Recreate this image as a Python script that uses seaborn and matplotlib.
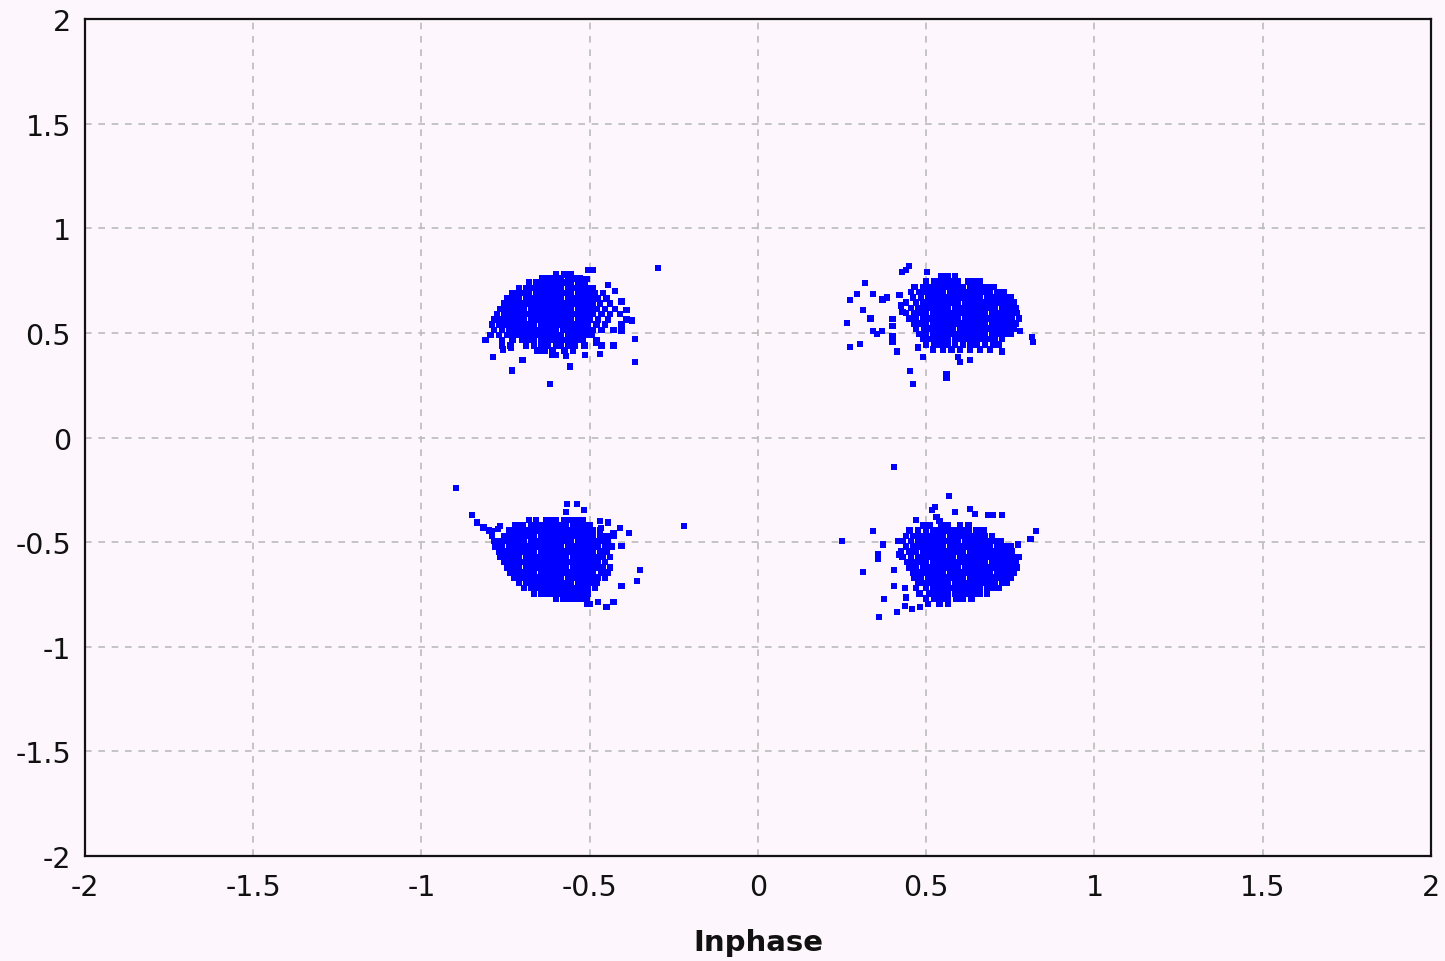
import matplotlib
matplotlib.use("Agg")
import matplotlib.pyplot as plt
import seaborn as sns
import pandas as pd

# Received QPSK symbols, grouped per quadrant.
# Dense parts are listed row by row as (Q, [I values]); stray symbols as (I, Q) pairs.
upper_left_rows = [
    (0.78, [-0.60, -0.575, -0.555]),
    (0.76, [-0.64, -0.62, -0.60, -0.585, -0.565, -0.55, -0.53]),
    (0.74, [-0.68, -0.66, -0.645, -0.625, -0.61, -0.59, -0.57, -0.555, -0.535, -0.515]),
    (0.715, [-0.71, -0.69, -0.675, -0.655, -0.64, -0.62, -0.60, -0.585, -0.565, -0.545, -0.53, -0.51, -0.49]),
    (0.69, [-0.73, -0.715, -0.695, -0.68, -0.66, -0.64, -0.625, -0.605, -0.59, -0.57, -0.555, -0.535, -0.52, -0.50, -0.485, -0.46]),
    (0.665, [-0.745, -0.725, -0.71, -0.69, -0.67, -0.655, -0.635, -0.62, -0.60, -0.585, -0.565, -0.55, -0.53, -0.515, -0.495, -0.475, -0.45]),
    (0.64, [-0.755, -0.74, -0.72, -0.70, -0.685, -0.665, -0.65, -0.63, -0.615, -0.595, -0.58, -0.56, -0.545, -0.525, -0.51, -0.49, -0.47, -0.44]),
    (0.615, [-0.765, -0.745, -0.73, -0.71, -0.695, -0.675, -0.66, -0.64, -0.625, -0.605, -0.59, -0.57, -0.555, -0.535, -0.52, -0.50, -0.48, -0.455, -0.425]),
    (0.59, [-0.775, -0.755, -0.74, -0.72, -0.70, -0.685, -0.665, -0.65, -0.63, -0.615, -0.595, -0.58, -0.56, -0.545, -0.525, -0.51, -0.49, -0.465, -0.44, -0.41]),
    (0.565, [-0.785, -0.765, -0.745, -0.73, -0.71, -0.695, -0.675, -0.66, -0.64, -0.625, -0.605, -0.59, -0.57, -0.555, -0.535, -0.52, -0.50, -0.475, -0.445, -0.39]),
    (0.54, [-0.79, -0.77, -0.75, -0.735, -0.715, -0.70, -0.68, -0.665, -0.645, -0.63, -0.61, -0.595, -0.575, -0.56, -0.54, -0.525, -0.505, -0.48, -0.455, -0.405]),
    (0.515, [-0.785, -0.76, -0.74, -0.72, -0.705, -0.685, -0.67, -0.65, -0.635, -0.615, -0.60, -0.58, -0.565, -0.545, -0.53, -0.51, -0.49, -0.465, -0.43]),
    (0.49, [-0.795, -0.77, -0.745, -0.725, -0.705, -0.69, -0.67, -0.655, -0.635, -0.62, -0.60, -0.585, -0.565, -0.55, -0.53, -0.515, -0.495]),
    (0.465, [-0.81, -0.76, -0.73, -0.70, -0.68, -0.665, -0.645, -0.63, -0.61, -0.595, -0.575, -0.56, -0.54, -0.52, -0.48]),
    (0.44, [-0.76, -0.735, -0.69, -0.665, -0.645, -0.625, -0.60, -0.585, -0.565, -0.545, -0.515, -0.465]),
    (0.415, [-0.655, -0.635, -0.61, -0.575, -0.55]),
]
upper_left_strays = [
    (-0.297, 0.81), (-0.505, 0.80), (-0.49, 0.80), (-0.366, 0.47), (-0.366, 0.36),
    (-0.618, 0.255), (-0.731, 0.32), (-0.788, 0.385), (-0.758, 0.42), (-0.734, 0.43),
    (-0.70, 0.37), (-0.559, 0.34), (-0.61, 0.395), (-0.60, 0.395), (-0.57, 0.39),
    (-0.514, 0.395), (-0.43, 0.44), (-0.47, 0.40), (-0.465, 0.44), (-0.48, 0.455),
    (-0.405, 0.51), (-0.374, 0.56), (-0.39, 0.61), (-0.405, 0.65), (-0.425, 0.70),
    (-0.446, 0.73), (-0.51, 0.757),
]

upper_right_rows = [
    (0.77, [0.545, 0.565, 0.585]),
    (0.745, [0.50, 0.525, 0.54, 0.56, 0.575, 0.595, 0.625, 0.645, 0.66]),
    (0.72, [0.465, 0.49, 0.505, 0.525, 0.54, 0.56, 0.575, 0.595, 0.61, 0.63, 0.645, 0.665, 0.68, 0.70]),
    (0.695, [0.455, 0.48, 0.50, 0.515, 0.535, 0.55, 0.57, 0.585, 0.605, 0.62, 0.64, 0.655, 0.675, 0.69, 0.71, 0.73]),
    (0.67, [0.46, 0.485, 0.505, 0.52, 0.54, 0.555, 0.575, 0.59, 0.61, 0.625, 0.645, 0.66, 0.68, 0.695, 0.715, 0.735, 0.75]),
    (0.645, [0.44, 0.47, 0.49, 0.51, 0.525, 0.545, 0.56, 0.58, 0.595, 0.615, 0.63, 0.65, 0.665, 0.685, 0.70, 0.72, 0.74, 0.76]),
    (0.62, [0.455, 0.475, 0.495, 0.515, 0.53, 0.55, 0.565, 0.585, 0.60, 0.62, 0.635, 0.655, 0.67, 0.69, 0.705, 0.725, 0.745, 0.765]),
    (0.595, [0.44, 0.465, 0.485, 0.50, 0.52, 0.535, 0.555, 0.57, 0.59, 0.605, 0.625, 0.64, 0.66, 0.675, 0.695, 0.71, 0.73, 0.75, 0.77]),
    (0.57, [0.45, 0.47, 0.49, 0.51, 0.525, 0.545, 0.56, 0.58, 0.595, 0.615, 0.63, 0.65, 0.665, 0.685, 0.70, 0.72, 0.735, 0.755, 0.775]),
    (0.545, [0.465, 0.485, 0.50, 0.52, 0.535, 0.555, 0.57, 0.59, 0.605, 0.625, 0.64, 0.66, 0.675, 0.695, 0.71, 0.73, 0.745, 0.765]),
    (0.52, [0.47, 0.495, 0.51, 0.53, 0.545, 0.565, 0.58, 0.60, 0.615, 0.635, 0.65, 0.67, 0.685, 0.705, 0.72, 0.74, 0.76]),
    (0.495, [0.48, 0.50, 0.52, 0.535, 0.555, 0.57, 0.59, 0.605, 0.625, 0.64, 0.66, 0.675, 0.695, 0.71, 0.73, 0.75]),
    (0.47, [0.49, 0.51, 0.53, 0.55, 0.565, 0.585, 0.60, 0.62, 0.635, 0.655, 0.67, 0.69, 0.705, 0.725]),
    (0.445, [0.50, 0.525, 0.545, 0.565, 0.585, 0.61, 0.63, 0.65, 0.675, 0.70, 0.715]),
    (0.42, [0.52, 0.55, 0.575, 0.60, 0.63, 0.66, 0.69]),
]
upper_right_strays = [
    (0.815, 0.48), (0.817, 0.457), (0.778, 0.51), (0.725, 0.41), (0.63, 0.37),
    (0.594, 0.385), (0.60, 0.36), (0.56, 0.30), (0.56, 0.285), (0.452, 0.318),
    (0.46, 0.255), (0.49, 0.385), (0.475, 0.43), (0.413, 0.41), (0.40, 0.46),
    (0.40, 0.485), (0.342, 0.51), (0.368, 0.51), (0.353, 0.495), (0.303, 0.447),
    (0.273, 0.433), (0.264, 0.547), (0.335, 0.57), (0.312, 0.61), (0.273, 0.657),
    (0.294, 0.686), (0.318, 0.738), (0.342, 0.686), (0.37, 0.66), (0.383, 0.67),
    (0.40, 0.566), (0.40, 0.533), (0.428, 0.79), (0.449, 0.82), (0.44, 0.80),
    (0.502, 0.79), (0.425, 0.63), (0.43, 0.60), (0.42, 0.68),
]

lower_left_rows = [
    (-0.395, [-0.68, -0.66, -0.63, -0.615, -0.60, -0.575, -0.555, -0.54, -0.52]),
    (-0.42, [-0.72, -0.70, -0.675, -0.655, -0.64, -0.62, -0.605, -0.585, -0.57, -0.55, -0.535, -0.515, -0.50]),
    (-0.445, [-0.80, -0.74, -0.72, -0.70, -0.685, -0.665, -0.65, -0.63, -0.615, -0.595, -0.58, -0.56, -0.545, -0.525, -0.51, -0.49, -0.47]),
    (-0.47, [-0.79, -0.755, -0.735, -0.715, -0.70, -0.68, -0.665, -0.645, -0.63, -0.61, -0.595, -0.575, -0.56, -0.54, -0.525, -0.505, -0.49, -0.47, -0.45, -0.43]),
    (-0.495, [-0.785, -0.765, -0.745, -0.73, -0.71, -0.695, -0.675, -0.66, -0.64, -0.625, -0.605, -0.59, -0.57, -0.555, -0.535, -0.52, -0.50, -0.485, -0.465, -0.445]),
    (-0.52, [-0.78, -0.76, -0.74, -0.725, -0.705, -0.69, -0.67, -0.655, -0.635, -0.62, -0.60, -0.585, -0.565, -0.55, -0.53, -0.515, -0.495, -0.475, -0.455, -0.435]),
    (-0.545, [-0.77, -0.75, -0.735, -0.715, -0.70, -0.68, -0.665, -0.645, -0.63, -0.61, -0.595, -0.575, -0.56, -0.54, -0.525, -0.505, -0.49, -0.47, -0.45]),
    (-0.57, [-0.765, -0.745, -0.725, -0.71, -0.69, -0.675, -0.655, -0.64, -0.62, -0.605, -0.585, -0.57, -0.55, -0.535, -0.515, -0.50, -0.48, -0.46, -0.44]),
    (-0.595, [-0.755, -0.735, -0.72, -0.70, -0.685, -0.665, -0.65, -0.63, -0.615, -0.595, -0.58, -0.56, -0.545, -0.525, -0.51, -0.49, -0.475, -0.455]),
    (-0.62, [-0.745, -0.725, -0.71, -0.69, -0.675, -0.655, -0.64, -0.62, -0.605, -0.585, -0.57, -0.55, -0.535, -0.515, -0.50, -0.48, -0.46, -0.44]),
    (-0.645, [-0.735, -0.715, -0.70, -0.68, -0.665, -0.645, -0.63, -0.61, -0.595, -0.575, -0.56, -0.54, -0.525, -0.505, -0.49, -0.465, -0.445]),
    (-0.67, [-0.725, -0.705, -0.69, -0.67, -0.655, -0.635, -0.62, -0.60, -0.585, -0.565, -0.55, -0.53, -0.515, -0.495, -0.475, -0.455]),
    (-0.695, [-0.71, -0.69, -0.675, -0.66, -0.64, -0.625, -0.605, -0.59, -0.57, -0.555, -0.535, -0.52, -0.50, -0.48]),
    (-0.72, [-0.695, -0.675, -0.66, -0.64, -0.625, -0.61, -0.59, -0.575, -0.555, -0.54, -0.52, -0.505, -0.485]),
    (-0.745, [-0.665, -0.645, -0.63, -0.61, -0.595, -0.575, -0.56, -0.54, -0.525, -0.505]),
    (-0.77, [-0.60, -0.58, -0.56, -0.545, -0.525, -0.51]),
]
lower_left_strays = [
    (-0.897, -0.242), (-0.85, -0.37), (-0.835, -0.405), (-0.767, -0.423), (-0.773, -0.437),
    (-0.22, -0.423), (-0.35, -0.633), (-0.36, -0.686), (-0.405, -0.71), (-0.43, -0.786),
    (-0.45, -0.81), (-0.475, -0.786), (-0.508, -0.796), (-0.50, -0.796), (-0.568, -0.318),
    (-0.538, -0.318), (-0.57, -0.357), (-0.517, -0.347), (-0.47, -0.40), (-0.446, -0.405),
    (-0.41, -0.433), (-0.383, -0.456), (-0.43, -0.456), (-0.467, -0.433), (-0.405, -0.518),
    (-0.815, -0.43), (-0.79, -0.45),
]

lower_right_rows = [
    (-0.42, [0.49, 0.51, 0.545, 0.565, 0.60, 0.625]),
    (-0.445, [0.45, 0.475, 0.50, 0.52, 0.535, 0.555, 0.575, 0.59, 0.61, 0.625, 0.65, 0.67]),
    (-0.47, [0.44, 0.46, 0.48, 0.50, 0.515, 0.535, 0.55, 0.57, 0.585, 0.605, 0.62, 0.64, 0.655, 0.675, 0.695]),
    (-0.495, [0.43, 0.455, 0.475, 0.49, 0.51, 0.525, 0.545, 0.56, 0.58, 0.595, 0.615, 0.63, 0.65, 0.665, 0.685, 0.70, 0.72]),
    (-0.52, [0.44, 0.46, 0.48, 0.50, 0.515, 0.535, 0.55, 0.57, 0.585, 0.605, 0.62, 0.64, 0.655, 0.675, 0.69, 0.71, 0.73, 0.75]),
    (-0.545, [0.425, 0.45, 0.47, 0.49, 0.505, 0.525, 0.54, 0.56, 0.575, 0.595, 0.61, 0.63, 0.645, 0.665, 0.68, 0.70, 0.715, 0.735, 0.755]),
    (-0.57, [0.43, 0.455, 0.475, 0.495, 0.51, 0.53, 0.545, 0.565, 0.58, 0.60, 0.615, 0.635, 0.65, 0.67, 0.685, 0.705, 0.72, 0.74, 0.76, 0.775]),
    (-0.595, [0.445, 0.465, 0.485, 0.50, 0.52, 0.535, 0.555, 0.57, 0.59, 0.605, 0.625, 0.64, 0.66, 0.675, 0.695, 0.71, 0.73, 0.745, 0.765]),
    (-0.62, [0.45, 0.47, 0.49, 0.51, 0.525, 0.545, 0.56, 0.58, 0.595, 0.615, 0.63, 0.65, 0.665, 0.685, 0.70, 0.72, 0.735, 0.755, 0.77]),
    (-0.645, [0.46, 0.48, 0.50, 0.515, 0.535, 0.55, 0.57, 0.585, 0.605, 0.62, 0.64, 0.655, 0.675, 0.69, 0.71, 0.725, 0.745, 0.76]),
    (-0.67, [0.465, 0.485, 0.505, 0.525, 0.54, 0.56, 0.575, 0.595, 0.61, 0.63, 0.645, 0.665, 0.68, 0.70, 0.715, 0.735, 0.75]),
    (-0.695, [0.475, 0.495, 0.515, 0.53, 0.55, 0.565, 0.585, 0.60, 0.62, 0.635, 0.655, 0.67, 0.69, 0.705, 0.725, 0.74]),
    (-0.72, [0.47, 0.50, 0.52, 0.54, 0.555, 0.575, 0.59, 0.61, 0.625, 0.645, 0.66, 0.68, 0.695, 0.715]),
    (-0.745, [0.48, 0.51, 0.53, 0.55, 0.565, 0.585, 0.60, 0.62, 0.64, 0.66, 0.68]),
    (-0.77, [0.50, 0.525, 0.545, 0.565, 0.59, 0.61, 0.635]),
    (-0.795, [0.54, 0.565]),
]
lower_right_strays = [
    (0.404, -0.14), (0.568, -0.28), (0.526, -0.332), (0.517, -0.347), (0.53, -0.38),
    (0.54, -0.40), (0.585, -0.356), (0.63, -0.342), (0.645, -0.366), (0.684, -0.37),
    (0.698, -0.37), (0.725, -0.37), (0.826, -0.447), (0.81, -0.486), (0.773, -0.51),
    (0.342, -0.447), (0.25, -0.495), (0.372, -0.51), (0.357, -0.557), (0.357, -0.58),
    (0.312, -0.643), (0.404, -0.633), (0.404, -0.71), (0.437, -0.72), (0.374, -0.772),
    (0.413, -0.834), (0.36, -0.858), (0.437, -0.805), (0.458, -0.82), (0.481, -0.81),
    (0.505, -0.796), (0.47, -0.394), (0.416, -0.495), (0.44, -0.765), (0.42, -0.56),
]

tick_values = [-2, -1.5, -1, -0.5, 0, 0.5, 1, 1.5, 2]
tick_labels = ["-2", "-1.5", "-1", "-0.5", "0", "0.5", "1", "1.5", "2"]
x_label = "Inphase"


def collect(rows, strays):
    pts = [(i, q) for q, xs in rows for i in xs]
    pts.extend(strays)
    return pts


points = (collect(upper_left_rows, upper_left_strays)
          + collect(upper_right_rows, upper_right_strays)
          + collect(lower_left_rows, lower_left_strays)
          + collect(lower_right_rows, lower_right_strays))
df = pd.DataFrame(points, columns=["I", "Q"])

sns.set_theme(style="white")
plt.rcParams["font.family"] = ["DejaVu Sans"]

bg = "#FDF7FD"
fig = plt.figure(figsize=(14.45, 9.62), dpi=100, facecolor=bg)
ax = fig.add_axes([0.0588, 0.1091, 0.9315, 0.8701])
ax.set_facecolor(bg)

sns.scatterplot(data=df, x="I", y="Q", marker="s", s=22, color="#0000FF",
                edgecolor="none", linewidth=0, ax=ax, zorder=3)

ax.set_xlim(-2, 2)
ax.set_ylim(-2, 2)
ax.set_xticks(tick_values)
ax.set_xticklabels(tick_labels)
ax.set_yticks(tick_values)
ax.set_yticklabels(tick_labels)
ax.tick_params(axis="both", length=0, labelsize=20.5, colors="#111111")
ax.tick_params(axis="x", pad=12)
ax.tick_params(axis="y", pad=10)

ax.grid(True, color="#BBBBBB", linestyle=(0, (4, 4)), linewidth=1.2)
ax.set_axisbelow(True)
for sp in ax.spines.values():
    sp.set_visible(True)
    sp.set_color("#111111")
    sp.set_linewidth(1.6)

ax.set_xlabel(x_label, fontsize=21, fontweight="bold", color="#111111", labelpad=20)
ax.set_ylabel("")

fig.savefig("out.png", dpi=100, facecolor=bg)
